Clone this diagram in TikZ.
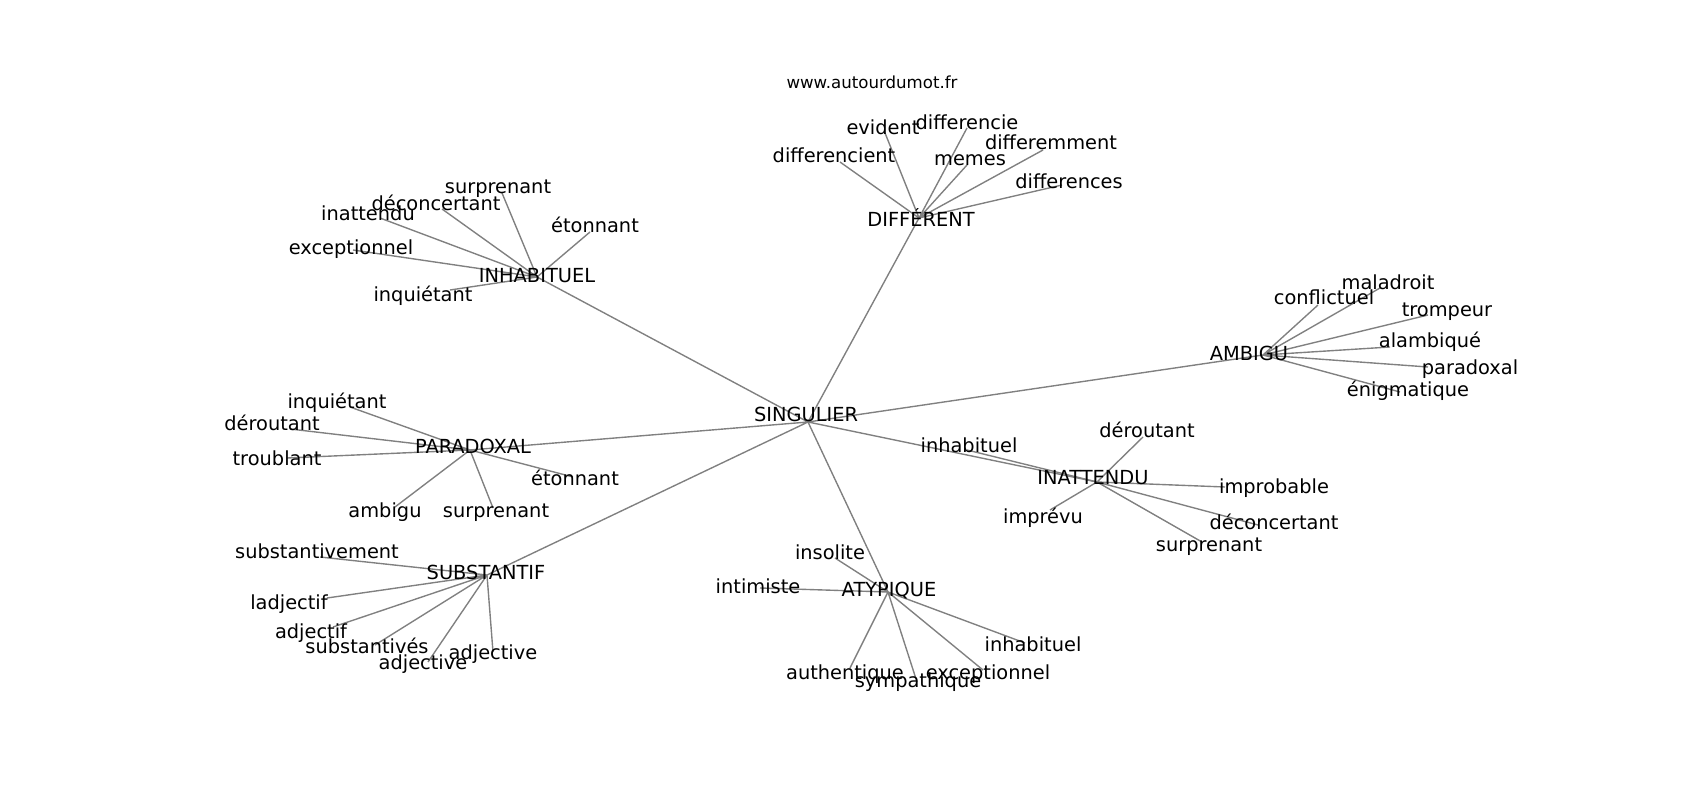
\documentclass[tikz,border=0pt]{standalone}
\usepackage{fontspec}
\setmainfont{DejaVu Sans}
\usetikzlibrary{backgrounds}

\begin{document}
\begin{tikzpicture}[x=0.01in, y=-0.01in,
  wd/.style={font=\fontsize{14}{17}\selectfont, inner sep=0pt,
             text height=10.6pt, text depth=3.4pt},
  link/.style={draw=black!50, line width=1pt}]
  \useasboundingbox (0,0) rectangle (1700,800);
  \node[inner sep=0pt, text height=9.1pt, text depth=2.9pt,
        font=\fontsize{12}{14}\selectfont] (site) at (872,84) {www.autourdumot.fr};

  % hubs
  \coordinate (sing)  at (808,422);  \node[wd] (sing-t)  at (806,417)  {SINGULIER};
  \coordinate (inhab) at (537,277);  \node[wd] (inhab-t) at (537,278)  {INHABITUEL};
  \coordinate (diff)  at (919,218);  \node[wd] (diff-t)  at (921,222)  {DIFFÉRENT};
  \coordinate (amb)   at (1263,355); \node[wd] (amb-t)   at (1249,356) {AMBIGU};
  \coordinate (parad) at (470,450);  \node[wd] (parad-t) at (473,449)  {PARADOXAL};
  \coordinate (subst) at (487,575);  \node[wd] (subst-t) at (486,575)  {SUBSTANTIF};
  \coordinate (atyp)  at (888,592);  \node[wd] (atyp-t)  at (889,592)  {ATYPIQUE};
  \coordinate (inatt) at (1097,482); \node[wd] (inatt-t) at (1093,480) {INATTENDU};

  % INHABITUEL
  \coordinate (ih-surp) at (502,193); \node[wd] (ih-surp-t) at (498,189) {surprenant};
  \coordinate (ih-deco) at (442,209); \node[wd] (ih-deco-t) at (436,206) {déconcertant};
  \coordinate (ih-inat) at (380,218); \node[wd] (ih-inat-t) at (368,216) {inattendu};
  \coordinate (ih-eton) at (590,232); \node[wd] (ih-eton-t) at (595,228) {étonnant};
  \coordinate (ih-exce) at (353,250); \node[wd] (ih-exce-t) at (351,250) {exceptionnel};
  \coordinate (ih-inqu) at (450,290); \node[wd] (ih-inqu-t) at (423,297) {inquiétant};

  % DIFFERENT
  \coordinate (df-evid) at (885,133);  \node[wd] (df-evid-t) at (883,130)  {evident};
  \coordinate (df-dcie) at (967,128);  \node[wd] (df-dcie-t) at (967,125)  {differencie};
  \coordinate (df-demm) at (1043,150); \node[wd] (df-demm-t) at (1051,145) {differemment};
  \coordinate (df-dent) at (840,162);  \node[wd] (df-dent-t) at (834,158)  {differencient};
  \coordinate (df-meme) at (967,165);  \node[wd] (df-meme-t) at (970,161)  {memes};
  \coordinate (df-dces) at (1062,185); \node[wd] (df-dces-t) at (1069,184) {differences};

  % AMBIGU
  \coordinate (am-mala) at (1380,288); \node[wd] (am-mala-t) at (1388,285) {maladroit};
  \coordinate (am-conf) at (1318,305); \node[wd] (am-conf-t) at (1324,300) {conflictuel};
  \coordinate (am-trom) at (1428,315); \node[wd] (am-trom-t) at (1447,312) {trompeur};
  \coordinate (am-alam) at (1390,347); \node[wd] (am-alam-t) at (1430,343) {alambiqué};
  \coordinate (am-para) at (1428,367); \node[wd] (am-para-t) at (1470,370) {paradoxal};
  \coordinate (am-enig) at (1400,392); \node[wd] (am-enig-t) at (1408,392) {énigmatique};

  % PARADOXAL
  \coordinate (pa-inqu) at (350,407); \node[wd] (pa-inqu-t) at (337,404) {inquiétant};
  \coordinate (pa-dero) at (290,429); \node[wd] (pa-dero-t) at (272,426) {déroutant};
  \coordinate (pa-trou) at (287,458); \node[wd] (pa-trou-t) at (277,461) {troublant};
  \coordinate (pa-eton) at (573,477); \node[wd] (pa-eton-t) at (575,481) {étonnant};
  \coordinate (pa-ambi) at (395,507); \node[wd] (pa-ambi-t) at (385,513) {ambigu};
  \coordinate (pa-surp) at (493,508); \node[wd] (pa-surp-t) at (496,513) {surprenant};

  % SUBSTANTIF
  \coordinate (su-smen) at (320,557); \node[wd] (su-smen-t) at (317,554) {substantivement};
  \coordinate (su-ladj) at (327,598); \node[wd] (su-ladj-t) at (289,605) {ladjectif};
  \coordinate (su-adjf) at (333,627); \node[wd] (su-adjf-t) at (311,634) {adjectif};
  \coordinate (su-sves) at (375,645); \node[wd] (su-sves-t) at (367,649) {substantivés};
  \coordinate (su-adja) at (428,662); \node[wd] (su-adja-t) at (423,665) {adjective};
  \coordinate (su-adjb) at (493,652); \node[wd] (su-adjb-t) at (493,655) {adjective};

  % ATYPIQUE
  \coordinate (at-inso) at (835,558);  \node[wd] (at-inso-t) at (830,555)  {insolite};
  \coordinate (at-inti) at (760,588);  \node[wd] (at-inti-t) at (758,589)  {intimiste};
  \coordinate (at-inha) at (1025,643); \node[wd] (at-inha-t) at (1033,647) {inhabituel};
  \coordinate (at-auth) at (850,668);  \node[wd] (at-auth-t) at (845,675)  {authentique};
  \coordinate (at-symp) at (917,682);  \node[wd] (at-symp-t) at (918,683)  {sympathique};
  \coordinate (at-exce) at (983,670);  \node[wd] (at-exce-t) at (988,675)  {exceptionnel};

  % INATTENDU
  \coordinate (in-inha) at (967,450);  \node[wd] (in-inha-t) at (969,448)  {inhabituel};
  \coordinate (in-dero) at (1143,437); \node[wd] (in-dero-t) at (1147,433) {déroutant};
  \coordinate (in-impb) at (1225,487); \node[wd] (in-impb-t) at (1274,489) {improbable};
  \coordinate (in-impv) at (1050,510); \node[wd] (in-impv-t) at (1043,519) {imprévu};
  \coordinate (in-deco) at (1258,525); \node[wd] (in-deco-t) at (1274,525) {déconcertant};
  \coordinate (in-surp) at (1202,542); \node[wd] (in-surp-t) at (1209,547) {surprenant};

  \begin{scope}[on background layer]
    \draw[link] (sing) -- (inhab) (sing) -- (diff) (sing) -- (amb) (sing) -- (parad)
                (sing) -- (subst) (sing) -- (atyp) (sing) -- (inatt);
    \draw[link] (inhab) -- (ih-surp) (inhab) -- (ih-deco) (inhab) -- (ih-inat)
                (inhab) -- (ih-eton) (inhab) -- (ih-exce) (inhab) -- (ih-inqu);
    \draw[link] (diff) -- (df-evid) (diff) -- (df-dcie) (diff) -- (df-demm)
                (diff) -- (df-dent) (diff) -- (df-meme) (diff) -- (df-dces);
    \draw[link] (amb) -- (am-mala) (amb) -- (am-conf) (amb) -- (am-trom)
                (amb) -- (am-alam) (amb) -- (am-para) (amb) -- (am-enig);
    \draw[link] (parad) -- (pa-inqu) (parad) -- (pa-dero) (parad) -- (pa-trou)
                (parad) -- (pa-eton) (parad) -- (pa-ambi) (parad) -- (pa-surp);
    \draw[link] (subst) -- (su-smen) (subst) -- (su-ladj) (subst) -- (su-adjf)
                (subst) -- (su-sves) (subst) -- (su-adja) (subst) -- (su-adjb);
    \draw[link] (atyp) -- (at-inso) (atyp) -- (at-inti) (atyp) -- (at-inha)
                (atyp) -- (at-auth) (atyp) -- (at-symp) (atyp) -- (at-exce);
    \draw[link] (inatt) -- (in-inha) (inatt) -- (in-dero) (inatt) -- (in-impb)
                (inatt) -- (in-impv) (inatt) -- (in-deco) (inatt) -- (in-surp);
  \end{scope}
\end{tikzpicture}
\end{document}
